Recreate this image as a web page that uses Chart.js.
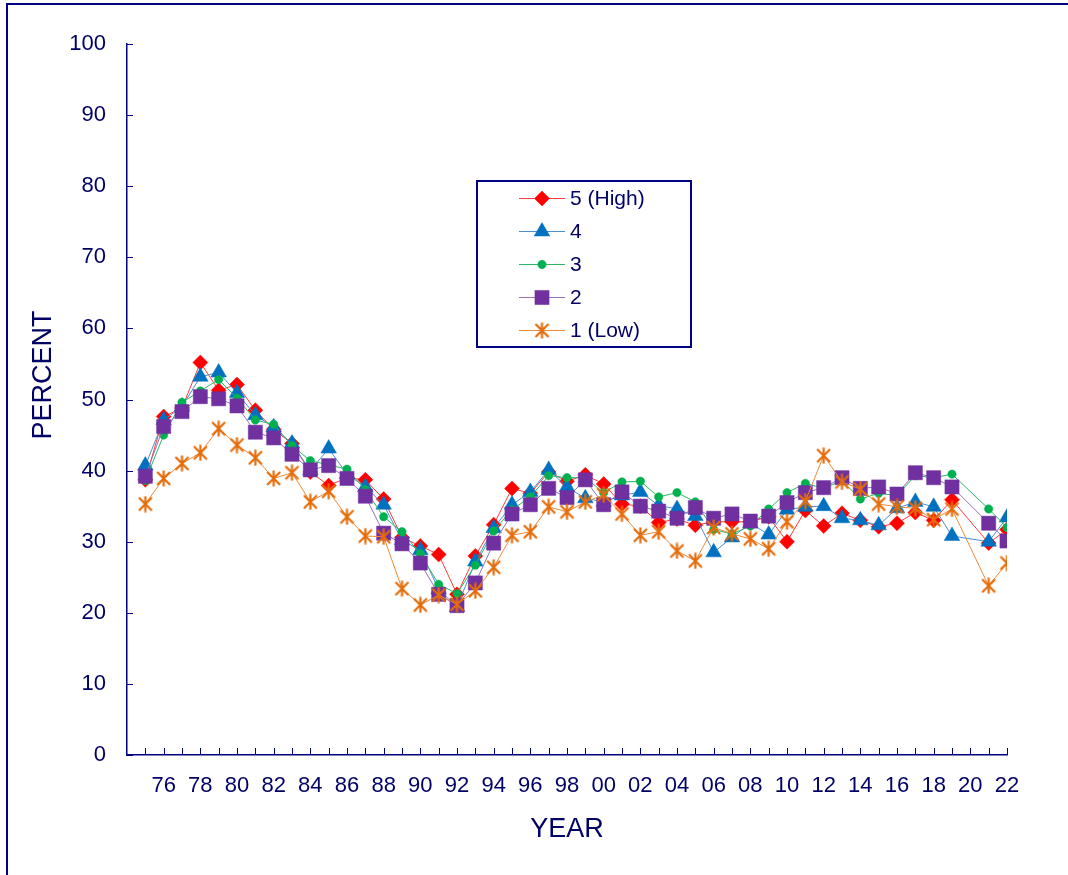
<!DOCTYPE html>
<html>
<head>
<meta charset="utf-8">
<script src="https://cdn.jsdelivr.net/npm/chart.js@4.4.1/dist/chart.umd.min.js"></script>
<style>
  html, body { margin: 0; padding: 0; background: #ffffff; }
  #wrap { position: relative; width: 1068px; height: 875px; overflow: hidden; background: #fff; }
  #frame { position: absolute; left: 6px; top: 3px; width: 2000px; height: 2000px;
           border-left: 2px solid #000080; border-top: 2px solid #000080; pointer-events: none; }
  #c { position: absolute; left: 0; top: 0; }
  #ytitle { position: absolute; left: 42px; top: 375px; transform: translate(-50%, -50%) rotate(-90deg);
            font-family: "Liberation Sans", Arial, sans-serif; font-size: 27px; color: #000066; white-space: nowrap; }
  #legend { position: absolute; left: 476px; top: 180px; width: 212px; height: 164px;
            border: 2px solid #000080; background: #fff; }
  .row { position: absolute; left: 0; height: 24px; }
  .row canvas { position: absolute; left: 40px; top: 0; }
  .row span { position: absolute; left: 92px; top: 0; line-height: 24px;
              font-family: "Liberation Sans", Arial, sans-serif; font-size: 21px; color: #000066; white-space: nowrap; }
</style>
</head>
<body>
<div id="wrap">
  <canvas id="c" width="1068" height="875"></canvas>
  <div id="frame"></div>
  <div id="ytitle">PERCENT</div>
  <div id="legend"></div>
</div>
<script>
// ---------------- DATA ----------------
const years = [1975,1976,1977,1978,1979,1980,1981,1982,1983,1984,1985,1986,1987,1988,1989,1990,
  1991,1992,1993,1994,1995,1996,1997,1998,1999,2000,2001,2002,2003,2004,2005,2006,2007,2008,2009,2010,
  2011,2012,2013,2014,2015,2016,2017,2018,2019,2020,2021,2022];

const seriesNames = ['5 (High)', '4', '3', '2', '1 (Low)'];

const high5 = [38.7,47.6,48.8,55.2,51.3,52.1,48.5,45.8,43.8,39.8,37.9,39.0,38.7,36.0,30.6,29.4,
  28.2,22.6,28.0,32.4,37.5,36.8,39.8,38.5,39.4,38.1,35.3,35.0,32.7,33.2,32.3,32.8,32.8,32.8,33.5,30.0,
  34.4,32.2,34.0,33.0,32.1,32.6,34.1,33.0,35.9,null,29.8,31.7];

const s4 = [40.7,47.1,49.0,53.2,53.8,50.9,47.8,46.1,43.8,40.0,43.1,39.5,37.7,35.2,30.2,28.8,
  23.3,20.8,27.2,31.9,35.2,37.0,40.1,37.7,36.1,35.6,36.5,37.0,35.1,34.6,33.6,28.5,30.6,32.6,31.0,34.5,
  34.9,35.0,33.3,33.0,32.3,34.7,35.6,34.9,30.8,null,30.0,33.4];

const s3 = [38.6,45.0,49.6,51.2,52.8,50.2,47.1,46.5,43.5,41.4,40.8,40.2,37.3,33.5,31.4,28.3,
  24.0,22.7,26.7,31.5,34.5,36.3,39.3,39.0,39.0,36.9,38.4,38.5,36.3,36.9,35.6,31.7,31.1,32.2,34.6,36.9,
  38.2,37.5,38.6,36.0,36.8,36.5,39.3,39.0,39.5,null,34.6,32.0];

const s2 = [39.2,46.2,48.3,50.4,50.1,49.1,45.4,44.6,42.3,40.1,40.7,38.9,36.4,31.2,29.7,27.0,
  22.6,21.0,24.2,29.8,33.9,35.2,37.5,36.2,38.7,35.2,37.0,35.0,34.3,33.3,34.8,33.3,33.9,32.9,33.6,35.5,
  36.9,37.6,39.0,37.5,37.7,36.7,39.7,39.0,37.7,null,32.6,30.1];

const low1 = [35.3,38.9,41.0,42.5,45.9,43.6,41.8,38.9,39.7,35.6,37.1,33.5,30.8,30.7,23.4,21.1,
  22.5,21.2,23.1,26.4,30.9,31.4,34.9,34.2,35.6,36.6,33.9,30.9,31.4,28.7,27.3,32.0,31.1,30.4,29.0,32.8,
  35.7,42.1,38.4,37.4,35.3,34.9,34.7,33.1,34.6,null,23.8,27.0];

const yTicks = [0,10,20,30,40,50,60,70,80,90,100];
const xTickYears  = [1976,1978,1980,1982,1984,1986,1988,1990,1992,1994,1996,1998,2000,2002,2004,2006,2008,2010,2012,2014,2016,2018,2020,2022];
const xTickLabels = ['76','78','80','82','84','86','88','90','92','94','96','98','00','02','04','06','08','10','12','14','16','18','20','22'];

// ---------------- STYLES ----------------
const NAVY = '#000080';
const TXT = '#000066';
const FONT = '"Liberation Sans", Arial, sans-serif';

function makeStar(color) {
  const c = document.createElement('canvas');
  c.width = 17; c.height = 17;
  const g = c.getContext('2d');
  g.strokeStyle = color; g.lineWidth = 2.2; g.lineCap = 'butt';
  g.beginPath();
  g.moveTo(8.5, 0.5); g.lineTo(8.5, 16.5);
  g.moveTo(2, 2); g.lineTo(15, 15);
  g.moveTo(15, 2); g.lineTo(2, 15);
  g.stroke();
  return c;
}
const starImg = makeStar('#E46C0A');

const styles = [
  { line: '#FF3B3B', fill: '#FF0000', pointStyle: 'rectRot', radius: 7.5 },
  { line: '#4A90D0', fill: '#0070C0', pointStyle: 'triangle', radius: 9 },
  { line: '#2DB865', fill: '#00B050', pointStyle: 'circle', radius: 4.2 },
  { line: '#9470C0', fill: '#7030A0', pointStyle: 'rect', radius: 10 },
  { line: '#EE8A3A', fill: '#E46C0A', pointStyle: starImg, radius: 8 }
];
const seriesValues = [high5, s4, s3, s2, low1];

const datasets = seriesValues.map((vals, i) => ({
  label: seriesNames[i],
  data: years.map((yr, k) => ({ x: yr, y: vals[k] })),
  borderColor: styles[i].line,
  backgroundColor: styles[i].fill,
  borderWidth: 1,
  pointStyle: styles[i].pointStyle,
  pointRadius: styles[i].radius,
  pointBackgroundColor: styles[i].fill,
  pointBorderColor: styles[i].fill,
  pointBorderWidth: 0.5,
  spanGaps: true,
  tension: 0,
  order: 5 - i
}));

// inward tick marks drawn through the library scales
const innerTicks = {
  id: 'innerTicks',
  beforeDatasetsDraw(chart) {
    const { ctx, scales: { x, y } } = chart;
    ctx.save();
    ctx.strokeStyle = NAVY;
    ctx.lineWidth = 1;
    ctx.beginPath();
    yTicks.forEach(v => {
      const py = Math.round(y.getPixelForValue(v)) + 0.5;
      ctx.moveTo(x.left, py); ctx.lineTo(x.left + 6, py);
    });
    years.forEach(yr => {
      const px = Math.round(x.getPixelForValue(yr)) + 0.5;
      ctx.moveTo(px, y.bottom); ctx.lineTo(px, y.bottom - 7);
    });
    ctx.stroke();
    ctx.restore();
  }
};

const chart = new Chart(document.getElementById('c'), {
  type: 'line',
  data: { datasets },
  options: {
    responsive: false,
    animation: false,
    devicePixelRatio: 1,
    layout: { padding: { left: 0, top: 44, right: 61, bottom: 0 } },
    plugins: { legend: { display: false }, tooltip: { enabled: false } },
    scales: {
      x: {
        type: 'linear',
        min: 1974, max: 2022,
        afterFit(s) { s.height = 120; },
        afterBuildTicks(s) { s.ticks = years.concat([1974]).sort((a,b)=>a-b).map(v => ({ value: v })); },
        grid: { display: false, drawTicks: false },
        border: { display: true, color: NAVY, width: 1.5 },
        ticks: {
          autoSkip: false, maxRotation: 0, minRotation: 0, padding: 18,
          color: TXT, font: { family: FONT, size: 22 },
          callback(v) { const k = xTickYears.indexOf(v); return k >= 0 ? xTickLabels[k] : ''; }
        },
        title: { display: true, text: 'YEAR', color: TXT, font: { family: FONT, size: 27 },
                 padding: { top: 0, bottom: 29 } }
      },
      y: {
        min: 0, max: 100,
        afterFit(s) { s.width = 127; },
        grid: { display: false, drawTicks: false },
        border: { display: true, color: NAVY, width: 1.5 },
        ticks: { stepSize: 10, padding: 21, color: TXT, font: { family: FONT, size: 22 } }
      }
    }
  },
  plugins: [innerTicks]
});

// legend (HTML text, markers drawn with Chart.js helpers)
const legend = document.getElementById('legend');
const rowTops = [4, 37, 70, 103, 136];
seriesNames.forEach((name, i) => {
  const row = document.createElement('div');
  row.className = 'row';
  row.style.top = rowTops[i] + 'px';
  const cv = document.createElement('canvas');
  cv.width = 50; cv.height = 24;
  const g = cv.getContext('2d');
  g.strokeStyle = styles[i].line; g.lineWidth = 1.2;
  g.beginPath(); g.moveTo(1, 12.5); g.lineTo(47, 12.5); g.stroke();
  g.fillStyle = styles[i].fill; g.strokeStyle = styles[i].fill; g.lineWidth = 0.5;
  Chart.helpers.drawPoint(g, { pointStyle: styles[i].pointStyle, radius: styles[i].radius, rotation: 0, borderWidth: 0.5 }, 24, 12.5);
  row.appendChild(cv);
  const sp = document.createElement('span');
  sp.textContent = name;
  row.appendChild(sp);
  legend.appendChild(row);
});
</script>
</body>
</html>
